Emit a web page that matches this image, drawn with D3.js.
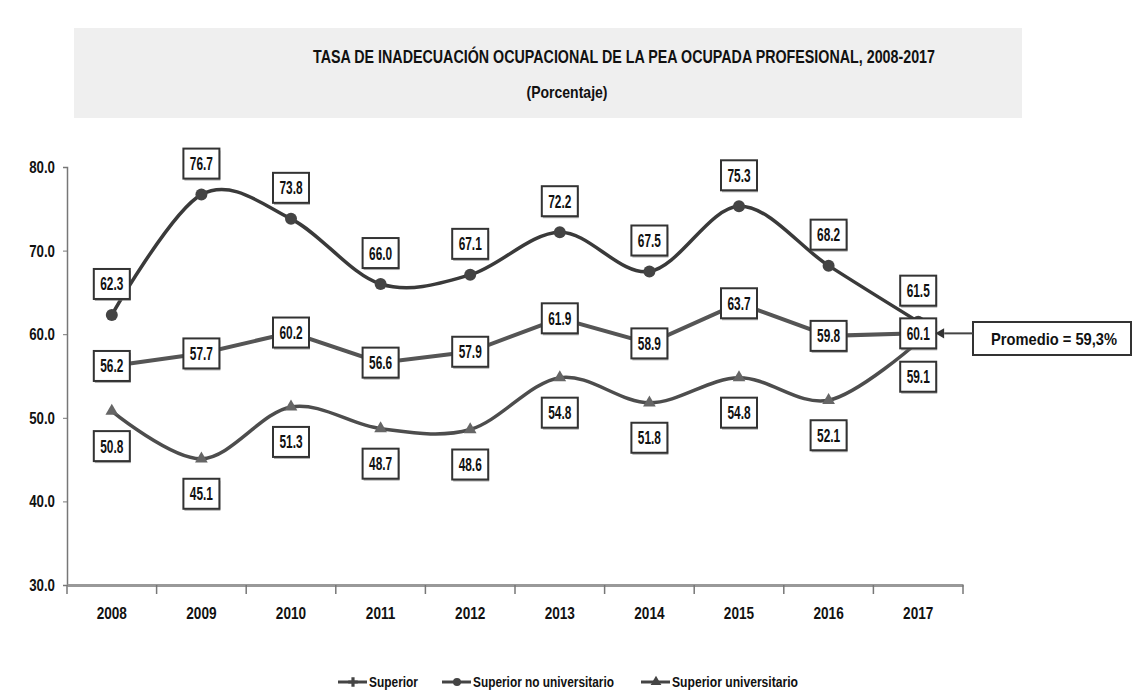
<!DOCTYPE html>
<html>
<head>
<meta charset="utf-8">
<script src="https://cdn.jsdelivr.net/npm/d3@7"></script>
<style>
  body { margin: 0; background: #fff; }
  svg { display: block; font-family: "Liberation Sans", Arial, sans-serif; font-weight: bold; }
</style>
</head>
<body>
<svg width="1139" height="693"></svg>
<script>
const years = ["2008","2009","2010","2011","2012","2013","2014","2015","2016","2017"];
const superior = [56.2, 57.7, 60.2, 56.6, 57.9, 61.9, 58.9, 63.7, 59.8, 60.1];
const noUniv = [62.3, 76.7, 73.8, 66.0, 67.1, 72.2, 67.5, 75.3, 68.2, 61.5];
const univ = [50.8, 45.1, 51.3, 48.7, 48.6, 54.8, 51.8, 54.8, 52.1, 59.1];
const yTicks = [30, 40, 50, 60, 70, 80];
const promedio = "Promedio = 59,3%";

const svg = d3.select("svg");

const x = d3.scaleBand().domain(years).range([67, 963]);
const y = d3.scaleLinear().domain([30, 80]).range([585, 167]);
const cx = d => x(d) + x.bandwidth() / 2;

// narrow the text to look like the condensed bold font of the original
function squeeze(sel, k) {
  sel.each(function () {
    const w = this.getComputedTextLength();
    d3.select(this).attr("textLength", w * k).attr("lengthAdjust", "spacingAndGlyphs");
  });
}

// title band
svg.append("rect").attr("x", 74).attr("y", 28).attr("width", 948).attr("height", 90).attr("fill", "#efefef");
svg.append("text").attr("x", 624).attr("y", 63).attr("text-anchor", "middle")
  .attr("font-size", 18).attr("fill", "#111")
  .attr("textLength", 622).attr("lengthAdjust", "spacingAndGlyphs")
  .text("TASA DE INADECUACIÓN OCUPACIONAL DE LA PEA OCUPADA PROFESIONAL, 2008-2017");
svg.append("text").attr("x", 567).attr("y", 98).attr("text-anchor", "middle")
  .attr("font-size", 17).attr("fill", "#111")
  .attr("textLength", 81).attr("lengthAdjust", "spacingAndGlyphs").text("(Porcentaje)");

// axes
const yAxis = svg.append("g").attr("transform", "translate(67,0)")
  .call(d3.axisLeft(y).tickValues(yTicks).tickFormat(d3.format(".1f")).tickSize(4));
yAxis.select(".domain").attr("stroke", "#777").attr("stroke-width", 1.5);
yAxis.selectAll(".tick line").attr("stroke", "#777");
yAxis.selectAll("text").attr("font-size", 17).attr("fill", "#111").attr("x", -12)
  .attr("font-family", "inherit").attr("font-weight", "bold").call(squeeze, 0.78);

const xAxis = svg.append("g").attr("transform", "translate(0,585)")
  .call(d3.axisBottom(x).tickSize(0).tickPadding(22));
xAxis.select(".domain").attr("stroke", "#999").attr("stroke-width", 3);
xAxis.selectAll("text").attr("font-size", 17).attr("fill", "#111")
  .attr("font-family", "inherit").attr("font-weight", "bold").call(squeeze, 0.8);
svg.append("g").selectAll("line").data(years.concat(["end"])).join("line")
  .attr("x1", (d, i) => 67 + i * x.step()).attr("x2", (d, i) => 67 + i * x.step())
  .attr("y1", 585).attr("y2", 594).attr("stroke", "#777").attr("stroke-width", 1.5);

// lines
const lineStraight = d3.line().x((d, i) => cx(years[i])).y(d => y(d));
const lineSmooth = d3.line().x((d, i) => cx(years[i])).y(d => y(d)).curve(d3.curveCatmullRom.alpha(0));

svg.append("path").attr("d", lineSmooth(noUniv)).attr("fill", "none").attr("stroke", "#3a3a3a").attr("stroke-width", 3.5);
svg.append("path").attr("d", lineSmooth(univ)).attr("fill", "none").attr("stroke", "#4d4d4d").attr("stroke-width", 3.5);
svg.append("path").attr("d", lineStraight(superior)).attr("fill", "none").attr("stroke", "#555").attr("stroke-width", 4);

// markers
svg.append("g").selectAll("circle").data(noUniv).join("circle")
  .attr("cx", (d, i) => cx(years[i])).attr("cy", d => y(d)).attr("r", 6).attr("fill", "#444");
svg.append("g").selectAll("path").data(univ).join("path")
  .attr("transform", (d, i) => `translate(${cx(years[i])},${y(d)})`)
  .attr("d", d3.symbol(d3.symbolTriangle, 70)).attr("fill", "#666");

// labels
function labels(data, dy) {
  const g = svg.append("g").selectAll("g").data(data).join("g")
    .attr("transform", (d, i) => `translate(${cx(years[i])},${y(d) + dy})`);
  g.append("rect").attr("x", -17).attr("y", -13).attr("width", 36).attr("height", 30)
    .attr("fill", "#777").attr("opacity", 0.6);
  g.append("rect").attr("x", -18).attr("y", -15).attr("width", 36).attr("height", 30)
    .attr("fill", "#fff").attr("stroke", "#333").attr("stroke-width", 2);
  g.append("text").attr("text-anchor", "middle").attr("dy", "0.36em")
    .attr("font-size", 18).attr("fill", "#111").text(d => d.toFixed(1)).call(squeeze, 0.66);
}
labels(noUniv, -31);
labels(univ, 35);
labels(superior, 0);

// promedio callout
const last = years[years.length - 1];
svg.append("rect").attr("x", 973).attr("y", 322).attr("width", 158).attr("height", 33)
  .attr("fill", "#fff").attr("stroke", "#333").attr("stroke-width", 2);
svg.append("text").attr("x", 1054).attr("y", 339).attr("dy", "0.36em").attr("text-anchor", "middle")
  .attr("font-size", 17).attr("fill", "#111")
  .attr("textLength", 126).attr("lengthAdjust", "spacingAndGlyphs").text(promedio);
svg.append("line").attr("x1", 973).attr("x2", cx(last) + 26).attr("y1", y(superior[9])).attr("y2", y(superior[9]))
  .attr("stroke", "#444").attr("stroke-width", 2);
svg.append("path").attr("transform", `translate(${cx(last) + 23},${y(superior[9])}) rotate(-90)`)
  .attr("d", d3.symbol(d3.symbolTriangle, 45)).attr("fill", "#333");

// legend
const legend = [
  { name: "Superior", sym: d3.symbolCross, x: 338, w: 49 },
  { name: "Superior no universitario", sym: d3.symbolCircle, x: 442, w: 141 },
  { name: "Superior universitario", sym: d3.symbolTriangle, x: 641, w: 126 }
];
const lg = svg.append("g").selectAll("g").data(legend).join("g")
  .attr("transform", d => `translate(${d.x},682)`);
lg.append("line").attr("x1", 0).attr("x2", 29).attr("stroke", "#444").attr("stroke-width", 3);
lg.append("path").attr("transform", "translate(15,0)").attr("d", d => d3.symbol(d.sym, 50)()).attr("fill", "#444");
lg.append("text").attr("x", 31).attr("dy", "0.36em").attr("font-size", 15).attr("fill", "#111")
  .attr("textLength", d => d.w).attr("lengthAdjust", "spacingAndGlyphs").text(d => d.name);
</script>
</body>
</html>
